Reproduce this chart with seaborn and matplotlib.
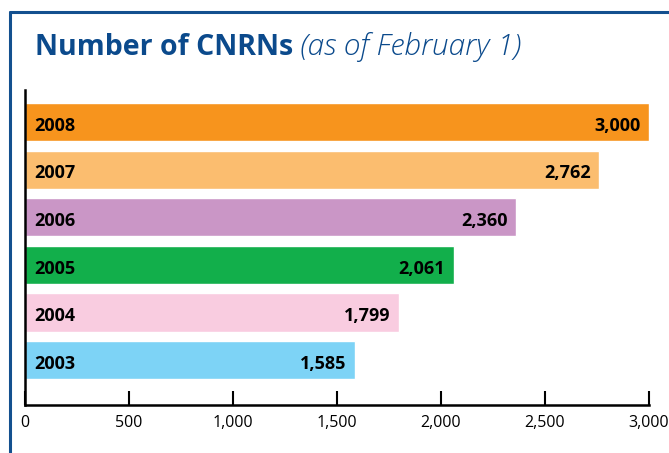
import pandas as pd
import seaborn as sns
import matplotlib.pyplot as plt
from matplotlib.lines import Line2D

# data
years = ['2008', '2007', '2006', '2005', '2004', '2003']
cnrns = [3000, 2762, 2360, 2061, 1799, 1585]
bar_colors = ['#F7941D', '#FBBD6F', '#CA96C6', '#12AF4B', '#F9CCE0', '#7DD3F6']
x_ticks = [0, 500, 1000, 1500, 2000, 2500, 3000]

df = pd.DataFrame({'year': years, 'count': cnrns})

sns.set_theme(style='white')
plt.rcParams['font.family'] = ['Open Sans', 'DejaVu Sans']

fig = plt.figure(figsize=(6.69, 4.53), dpi=100)
ax = fig.add_axes([25 / 669, 1 - 405 / 453, 624 / 669, 315 / 453])

sns.barplot(data=df, x='count', y='year', hue='year', palette=bar_colors,
            order=years, width=0.8, legend=False, ax=ax, saturation=1)

for i, (yr, v) in enumerate(zip(years, cnrns)):
    ax.text(45, i + 0.08, yr, ha='left', va='center', fontsize=13,
            fontweight='bold', color='black')
    ax.text(v - 40, i + 0.08, f'{v:,}', ha='right', va='center', fontsize=13,
            fontweight='bold', color='black')

ax.set_xlim(0, 3000)
ax.set_ylim(5.94, -0.67)
ax.set_xticks(x_ticks)
ax.set_xticklabels([f'{t:,}' for t in x_ticks])
ax.set_yticks([])
ax.set_xlabel('')
ax.set_ylabel('')
ax.tick_params(axis='x', direction='in', length=10, width=1.5, color='black',
               labelsize=11.5, labelcolor='black', pad=7, bottom=True)
for side in ['top', 'right']:
    ax.spines[side].set_visible(False)
for side in ['left', 'bottom']:
    ax.spines[side].set_color('black')
    ax.spines[side].set_linewidth(1.8)

# blue frame at top/left
frame = '#13508F'
fig.add_artist(Line2D([10 / 669, 10 / 669], [0, 1 - 12 / 453], color=frame, lw=2.2))
fig.add_artist(Line2D([10 / 669, 1], [1 - 12 / 453, 1 - 12 / 453], color=frame, lw=2.2))

fig.text(35 / 669, 1 - 55 / 453, 'Number of CNRNs', fontsize=20.5, fontweight='bold',
         color='#0B4A8C', ha='left', va='baseline')
fig.text(300 / 669, 1 - 55 / 453, '(as of February 1)', fontsize=21.5, style='italic',
         fontweight='light', color='#0B4A8C', ha='left', va='baseline')

fig.savefig('out.png', dpi=100)
